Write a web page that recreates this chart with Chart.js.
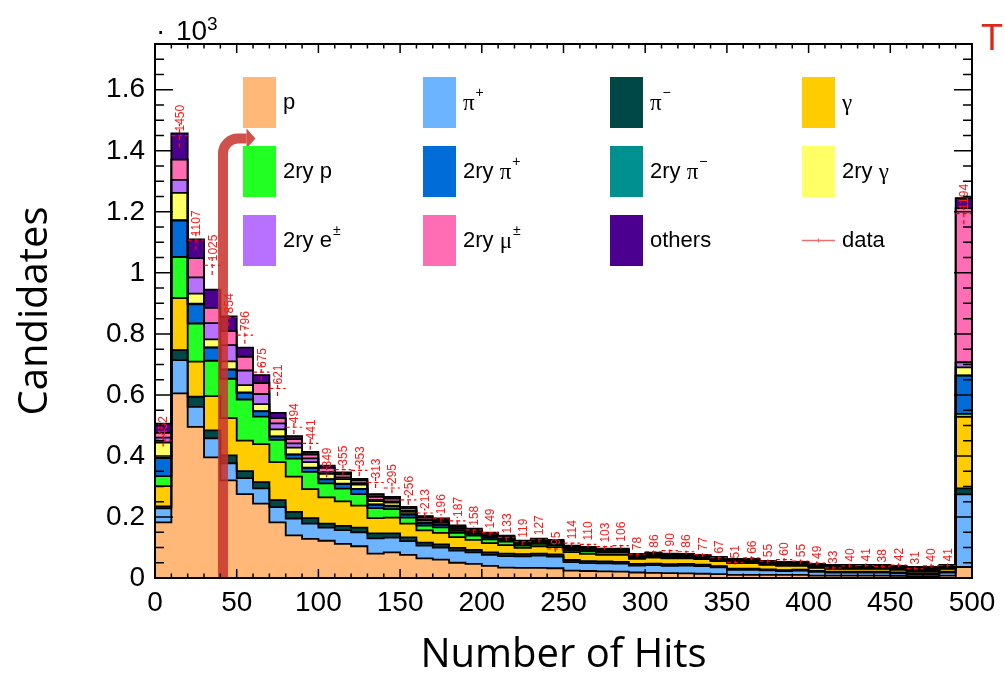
<!DOCTYPE html>
<html>
<head>
<meta charset="utf-8">
<script src="https://cdn.jsdelivr.net/npm/chart.js@4.4.0/dist/chart.umd.min.js"></script>
<style>
  html, body { margin: 0; padding: 0; background: #fff; }
  #wrap { width: 1005px; height: 674px; }
</style>
</head>
<body>
<div id="wrap"><canvas id="hitsChart" width="1005" height="674"></canvas></div>
<script>
// bins of 10 hits, 0..500
const binCenters = [5, 15, 25, 35, 45, 55, 65, 75, 85, 95, 105, 115, 125, 135, 145, 155, 165, 175, 185, 195,
    205, 215, 225, 235, 245, 255, 265, 275, 285, 295, 305, 315, 325, 335, 345, 355, 365, 375, 385, 395,
    405, 415, 425, 435, 445, 455, 465, 475, 485, 495];

// MC components (candidates per bin)
const proton = [182, 605, 495, 395, 320, 275, 244, 182, 140, 128, 122, 112, 104, 80, 84, 76, 64, 60, 50, 46,
    40, 34, 33, 33, 32, 24, 23, 22, 21, 18, 17, 16, 15, 14, 13, 10, 10, 10, 10, 10, 8, 8, 8, 8, 8, 7, 6, 6, 8, 36];
const piPlus = [46, 109, 66, 63, 56, 52, 50, 50, 55, 50, 43, 45, 46, 50, 48, 45, 42, 40, 40, 38,
    36, 38, 38, 40, 38, 28, 26, 26, 26, 23, 25, 24, 26, 25, 22, 17, 17, 15, 13, 14, 12, 10, 10, 10, 10, 8, 7, 7, 10, 238];
const piMinus = [7, 33, 33, 26, 26, 23, 20, 23, 22, 18, 13, 14, 15, 16, 14, 12, 10, 10, 9, 8,
    8, 8, 7, 7, 7, 7, 6, 6, 6, 5, 5, 5, 5, 5, 4, 4, 4, 3, 3, 3, 3, 3, 3, 3, 3, 3, 3, 3, 3, 20];
const gamma = [66, 170, 115, 112, 122, 100, 125, 125, 115, 95, 86, 80, 72, 50, 52, 45, 40, 38, 35, 33,
    30, 28, 21, 24, 24, 26, 24, 22, 23, 17, 20, 19, 18, 18, 16, 18, 18, 15, 14, 13, 10, 9, 9, 9, 9, 9, 7, 7, 9, 234];
const secProton = [33, 135, 125, 116, 129, 135, 90, 73, 59, 57, 46, 42, 38, 33, 28, 20, 16, 18, 14, 14,
    13, 11, 7, 8, 7, 6, 8, 7, 7, 4, 4, 4, 4, 3, 3, 3, 3, 2, 2, 2, 2, 2, 2, 2, 2, 2, 2, 2, 2, 10];
const secPiPlus = [59, 119, 63, 43, 30, 22, 17, 10, 13, 13, 13, 15, 16, 11, 10, 10, 8, 8, 7, 6,
    6, 5, 4, 5, 5, 4, 4, 4, 4, 3, 3, 3, 2, 2, 2, 2, 2, 2, 2, 2, 2, 2, 2, 2, 2, 2, 2, 2, 2, 125];
const secPiMinus = [1, 2, 2, 1, 1, 1, 1, 1, 1, 1, 1, 1, 1, 1, 1, 1, 1, 1, 1, 1,
    1, 1, 1, 1, 1, 1, 1, 0, 0, 0, 0, 0, 0, 0, 0, 0, 0, 0, 0, 0, 0, 0, 0, 0, 0, 0, 0, 0, 0, 1];
const secGamma = [50, 89, 33, 26, 26, 24, 23, 23, 22, 18, 17, 15, 14, 11, 10, 8, 7, 6, 5, 5,
    4, 4, 3, 3, 3, 3, 3, 2, 2, 2, 2, 2, 2, 2, 2, 2, 2, 2, 2, 2, 2, 2, 2, 2, 2, 2, 2, 2, 2, 26];
const secElectron = [16, 43, 53, 53, 53, 48, 33, 20, 14, 12, 7, 6, 5, 4, 4, 3, 3, 3, 2, 2,
    2, 2, 1, 1, 1, 1, 1, 1, 1, 1, 1, 1, 1, 1, 1, 1, 1, 1, 1, 1, 1, 1, 1, 1, 1, 1, 1, 1, 1, 17];
const secMuon = [16, 66, 63, 50, 46, 45, 36, 17, 14, 12, 13, 10, 9, 10, 9, 8, 7, 6, 5, 5,
    5, 4, 4, 4, 4, 3, 3, 3, 3, 3, 3, 3, 3, 3, 3, 3, 3, 3, 3, 3, 3, 3, 3, 3, 3, 3, 3, 3, 3, 505];
const others = [30, 86, 62, 60, 48, 30, 26, 17, 10, 9, 7, 6, 5, 9, 6, 5, 5, 5, 4, 4,
    4, 4, 3, 3, 3, 3, 3, 3, 3, 3, 3, 3, 3, 3, 3, 3, 3, 3, 3, 3, 3, 3, 3, 3, 3, 3, 3, 3, 3, 33];

// measured data
const dataCounts = [452, 1450, 1107, 1025, 854, 796, 675, 621, 494, 441, 349, 355, 353, 313, 295, 256, 213, 196, 187, 158,
    149, 133, 119, 127, 95, 114, 110, 103, 106, 78, 86, 90, 86, 77, 67, 51, 66, 55, 60, 55,
    49, 33, 40, 41, 38, 42, 31, 40, 41, 1194];

// axis ticks
const xTickValues = [0, 50, 100, 150, 200, 250, 300, 350, 400, 450, 500];
const yTickValues = [0, 200, 400, 600, 800, 1000, 1200, 1400, 1600];
const xMin = 0, xMax = 500, xMinor = 10;
const yMin = 0, yMax = 1750, yMinor = 50;

const components = [
    { values: proton, color: '#ffb878' },
    { values: piPlus, color: '#6cb4ff' },
    { values: piMinus, color: '#004848' },
    { values: gamma, color: '#ffcc00' },
    { values: secProton, color: '#22ff22' },
    { values: secPiPlus, color: '#006cd8' },
    { values: secPiMinus, color: '#009090' },
    { values: secGamma, color: '#ffff66' },
    { values: secElectron, color: '#b870ff' },
    { values: secMuon, color: '#ff6eb4' },
    { values: others, color: '#4b0090' }
];

// legend: rows of entries, each label split in [text, style] pieces
const legendRows = [
    [{ color: '#ffb878', label: [['p', '']] },
     { color: '#6cb4ff', label: [['π', 'g'], ['+', 'sup']] },
     { color: '#004848', label: [['π', 'g'], ['−', 'sup']] },
     { color: '#ffcc00', label: [['γ', 'g']] }],
    [{ color: '#22ff22', label: [['2ry p', '']] },
     { color: '#006cd8', label: [['2ry ', ''], ['π', 'g'], ['+', 'sup']] },
     { color: '#009090', label: [['2ry ', ''], ['π', 'g'], ['−', 'sup']] },
     { color: '#ffff66', label: [['2ry ', ''], ['γ', 'g']] }],
    [{ color: '#b870ff', label: [['2ry e', ''], ['±', 'sup']] },
     { color: '#ff6eb4', label: [['2ry ', ''], ['μ', 'g'], ['±', 'sup']] },
     { color: '#4b0090', label: [['others', '']] },
     { color: null, label: [['data', '']] }]
];

const SANS = '"Liberation Sans", Arial, sans-serif';

// step outline of every cumulative histogram, ROOT style
const stackOutline = {
    id: 'stackOutline',
    afterDatasetsDraw(chart) {
        const ctx = chart.ctx;
        const x = chart.scales.x;
        const y = chart.scales.y;
        const base = y.getPixelForValue(0);
        ctx.save();
        ctx.strokeStyle = '#000';
        ctx.lineWidth = 1.8;
        chart.data.datasets.forEach((ds, di) => {
            const meta = chart.getDatasetMeta(di);
            ctx.beginPath();
            let lastRight = 0;
            meta.data.forEach((bar, i) => {
                const left = bar.x - bar.width / 2;
                const right = bar.x + bar.width / 2;
                if (i === 0) ctx.moveTo(left, base);
                ctx.lineTo(left, bar.y);
                ctx.lineTo(right, bar.y);
                lastRight = right;
            });
            ctx.lineTo(lastRight, base);
            ctx.stroke();
        });

        // the red arrow drawn over the plot
        const ax = x.getPixelForValue(41.6);
        const ay = y.getPixelForValue(1440);
        const headBase = x.getPixelForValue(56);
        const headTip = x.getPixelForValue(61.5);
        const r = 15;
        ctx.strokeStyle = 'rgba(200, 50, 45, 0.85)';
        ctx.fillStyle = 'rgba(200, 50, 45, 0.85)';
        ctx.lineWidth = 10;
        ctx.beginPath();
        ctx.moveTo(ax, base);
        ctx.lineTo(ax, ay + r);
        ctx.arcTo(ax, ay, ax + r, ay, r);
        ctx.lineTo(headBase, ay);
        ctx.stroke();
        ctx.beginPath();
        ctx.moveTo(headBase, ay - 10);
        ctx.lineTo(headTip, ay);
        ctx.lineTo(headBase, ay + 10);
        ctx.closePath();
        ctx.fill();

        // data: dashed red bars and counts
        ctx.strokeStyle = '#ff0000';
        ctx.lineWidth = 1.2;
        ctx.setLineDash([4, 3]);
        dataCounts.forEach((n, i) => {
            const xl = x.getPixelForValue(binCenters[i] - 5);
            const xr = x.getPixelForValue(binCenters[i] + 5);
            const xc = x.getPixelForValue(binCenters[i]);
            const yv = y.getPixelForValue(n);
            const err = Math.sqrt(n);
            ctx.beginPath();
            ctx.moveTo(xl, yv);
            ctx.lineTo(xr, yv);
            ctx.moveTo(xc, y.getPixelForValue(n - err));
            ctx.lineTo(xc, y.getPixelForValue(n + err));
            ctx.stroke();
        });
        ctx.setLineDash([]);
        ctx.fillStyle = '#ff1a1a';
        ctx.font = '12px ' + SANS;
        ctx.textAlign = 'left';
        ctx.textBaseline = 'middle';
        dataCounts.forEach((n, i) => {
            const xc = x.getPixelForValue(binCenters[i]);
            const yv = y.getPixelForValue(n);
            ctx.save();
            ctx.translate(xc + 1, yv - 4);
            ctx.rotate(-Math.PI / 2);
            ctx.fillText(String(n), 0, 0);
            ctx.restore();
        });
        ctx.restore();
    }
};

// frame, inner ticks on all sides, legend, exponent
const frameAndLegend = {
    id: 'frameAndLegend',
    afterDraw(chart) {
        const ctx = chart.ctx;
        const { left, right, top, bottom } = chart.chartArea;
        const x = chart.scales.x, y = chart.scales.y;
        ctx.save();
        ctx.strokeStyle = '#000';
        ctx.lineWidth = 1.5;
        ctx.beginPath();
        for (let v = xMin; v <= xMax; v += xMinor) {
            const px = x.getPixelForValue(v);
            const len = xTickValues.includes(v) ? 9 : 4.5;
            ctx.moveTo(px, bottom); ctx.lineTo(px, bottom - len);
            ctx.moveTo(px, top); ctx.lineTo(px, top + len);
        }
        for (let v = yMin; v <= yMax; v += yMinor) {
            const py = y.getPixelForValue(v);
            const len = yTickValues.includes(v) ? 18 : 9;
            ctx.moveTo(left, py); ctx.lineTo(left + len, py);
            ctx.moveTo(right, py); ctx.lineTo(right - len, py);
        }
        ctx.stroke();
        ctx.lineWidth = 2;
        ctx.strokeRect(left, top, right - left, bottom - top);

        // exponent label
        ctx.fillStyle = '#000';
        ctx.textBaseline = 'alphabetic';
        ctx.textAlign = 'left';
        ctx.font = '28px ' + SANS;
        ctx.fillText('·', 156, 40);
        ctx.fillText('10', 176, 40);
        ctx.font = '19px ' + SANS;
        ctx.fillText('3', 207, 30);

        // legend
        const colX = [243, 423, 610, 802];
        const rowY = [77, 146, 215];
        const boxW = 33, boxH = 51;
        legendRows.forEach((row, ri) => {
            row.forEach((item, ci) => {
                const bx = colX[ci], by = rowY[ri];
                const cy = by + boxH / 2;
                if (item.color) {
                    ctx.fillStyle = item.color;
                    ctx.fillRect(bx, by, boxW, boxH);
                } else {
                    ctx.strokeStyle = '#f07070';
                    ctx.lineWidth = 1.5;
                    ctx.beginPath();
                    ctx.moveTo(bx, cy); ctx.lineTo(bx + boxW, cy);
                    ctx.moveTo(bx + boxW / 2, cy - 2); ctx.lineTo(bx + boxW / 2, cy + 2);
                    ctx.stroke();
                }
                let tx = bx + boxW + 7;
                ctx.fillStyle = '#000';
                ctx.textBaseline = 'middle';
                item.label.forEach(([t, style]) => {
                    if (style === 'g') {
                        ctx.font = '23px "Liberation Serif", serif';
                        ctx.fillText(t, tx, cy + 1);
                    } else if (style === 'sup') {
                        ctx.font = '14px ' + SANS;
                        ctx.fillText(t, tx + 1, cy - 9);
                    } else {
                        ctx.font = '22px ' + SANS;
                        ctx.fillText(t, tx, cy);
                    }
                    tx += ctx.measureText(t).width + (style === 'sup' ? 1 : 0);
                });
            });
        });

        // red mark cut at the corner
        ctx.fillStyle = '#e0281a';
        ctx.font = '36px ' + SANS;
        ctx.textAlign = 'left';
        ctx.textBaseline = 'alphabetic';
        ctx.fillText('T', 981, 50);
        ctx.restore();
    }
};

const datasets = components.map(c => ({
    data: c.values.map((v, i) => ({ x: binCenters[i], y: v })),
    backgroundColor: c.color,
    borderWidth: 0,
    barPercentage: 1,
    categoryPercentage: 1
}));

const ctx = document.getElementById('hitsChart').getContext('2d');
const hitsChart = new Chart(ctx, {
    type: 'bar',
    data: { datasets: datasets },
    options: {
        responsive: false,
        animation: false,
        devicePixelRatio: 1,
        layout: { padding: { left: 0, right: 33, top: 44, bottom: 0 } },
        plugins: {
            legend: { display: false },
            tooltip: { enabled: false }
        },
        scales: {
            x: {
                type: 'linear',
                stacked: true,
                offset: false,
                min: xMin,
                max: xMax,
                grid: { display: false, drawTicks: false },
                border: { display: false },
                afterBuildTicks: s => { s.ticks = xTickValues.map(v => ({ value: v })); },
                ticks: {
                    maxRotation: 0,
                    autoSkip: false,
                    padding: 8,
                    color: '#000',
                    font: { family: SANS, size: 28 }
                },
                title: {
                    display: true,
                    text: 'Number of Hits',
                    color: '#000',
                    font: { family: '"Open Sans", sans-serif', size: 40, lineHeight: 0.9 },
                    padding: { top: 0, bottom: 0 }
                },
                afterFit: s => { s.height = 96; }
            },
            y: {
                stacked: true,
                min: yMin,
                max: yMax,
                grid: { display: false, drawTicks: false },
                border: { display: false },
                afterBuildTicks: s => { s.ticks = yTickValues.map(v => ({ value: v })); },
                ticks: {
                    padding: 10,
                    color: '#000',
                    font: { family: SANS, size: 28 },
                    callback: v => String(v / 1000)
                },
                title: {
                    display: true,
                    text: 'Candidates',
                    color: '#000',
                    font: { family: '"Open Sans", sans-serif', size: 40 },
                    padding: { top: 12, bottom: 0 }
                },
                afterFit: s => { s.width = 155; }
            }
        }
    },
    plugins: [stackOutline, frameAndLegend]
});
</script>
</body>
</html>
